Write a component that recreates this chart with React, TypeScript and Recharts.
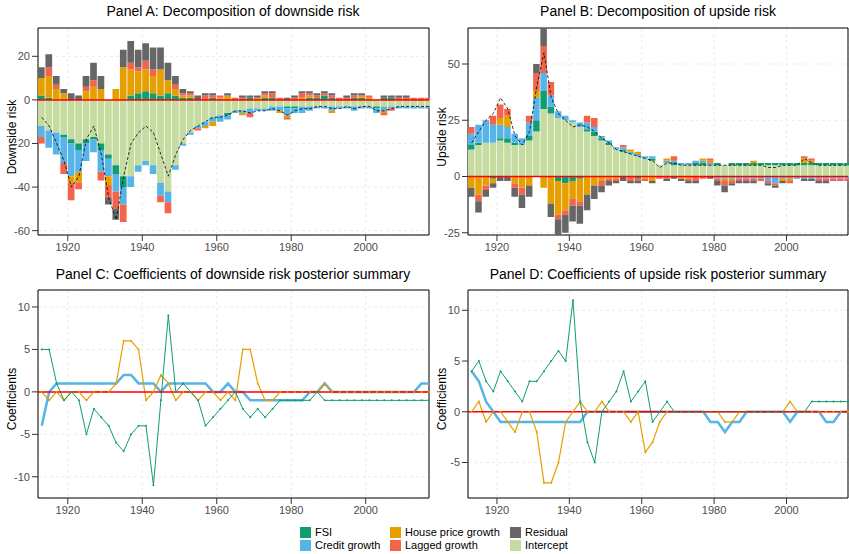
import { ComposedChart, Bar, Line, XAxis, YAxis, CartesianGrid, ReferenceLine, ReferenceArea } from "recharts";

const years = Array.from({ length: 53 }, (_, i) => 1913 + 2 * i);

// Panel A: downside risk decomposition
const aIntercept = [-12,-14,-15,-16,-18,-20,-18,-17,-20,-25, -30,-35,-35,-30,-28,-30,-38,-42,-30,-20, -15,-12,-10,-8,-7,-6,-5,-5,-4,-4, -4,-3,-3,-3,-3,-3,-3,-3,-3,-3, -3,-3,-3,-3,-3,-3,-3,-3,-3,-3, -3,-3,-3];
const aFsi = [2,1,0,-1,-2,-3,-2,-1,-3,-2, -4,-5,2,3,4,3,2,3,2,1, 1,0,0,1,0,-1,0,0,1,0, 1,1,0,-1,-1,0,1,1,2,1, 0,0,1,1,0,-1,1,1,0,0, 0,0,0];
const aCredit = [-5,-8,-10,-12,-15,-10,-8,-6,-10,-8, -8,-8,-5,-3,-2,-4,-6,-5,-2,-1, -1,-1,-2,-2,-3,-2,-1,-1,-2,-1, -1,-2,-2,-3,-2,-3,-2,-1,-1,-2, -1,-1,-2,-1,-1,-2,-2,-1,-1,-1, -1,-1,-1];
const aHouse = [8,10,5,3,-3,-5,4,6,5,-4, 5,15,12,10,10,8,12,6,3,1, 1,0,-1,-2,1,2,0,-1,0,1, 1,0,-1,-1,0,1,1,0,0,-1, 0,0,0,1,1,0,-1,0,0,0, 0,0,0];
const aLagged = [-3,4,2,-5,-8,-3,2,3,-4,-6, -8,-8,3,2,4,3,-3,-5,2,1, 1,-1,2,1,1,0,1,1,-2,0, 1,2,1,-1,1,2,1,1,1,1, 1,1,1,0,1,0,-1,-1,1,1, 1,1,1];
const aResidual = [5,6,4,2,3,2,5,8,6,-3, -5,8,10,8,8,10,10,8,4,2, 1,2,1,1,0,1,0,1,1,1, 1,1,0,1,1,1,1,1,1,1, 0,1,1,1,0,0,1,1,1,1, 0,0,0];
const aTotal = [-8,-12,-20,-28,-40,-35,-18,-12,-25,-45, -55,-35,-20,-15,-12,-15,-25,-35,-25,-18, -14,-12,-10,-8,-8,-7,-5,-5,-6,-5, -5,-4,-5,-7,-5,-4,-4,-3,-3,-4, -4,-3,-4,-3,-3,-5,-5,-4,-3,-3, -3,-3,-3];

// Panel B: upside risk decomposition
const bIntercept = [12,14,15,15,16,15,14,14,16,20, 30,28,26,25,24,22,20,18,16,14, 12,11,10,9,8,7,5,6,5,5, 5,5,5,5,5,5,5,5,5,5, 5,5,5,5,5,5,5,5,5,5, 5,5,5];
const bFsi = [2,1,0,-1,1,2,1,0,2,5, 8,3,-2,-3,-2,-1,1,2,1,1, 0,1,0,-1,0,1,0,0,1,0, 0,1,1,0,1,0,1,1,1,1, 1,1,1,1,1,1,1,1,1,1, 1,1,1];
const bCredit = [5,8,10,8,6,5,4,3,6,10, 8,5,3,2,1,2,3,2,1,1, 1,1,1,1,1,1,0,1,1,1, 1,1,1,1,-1,-1,-1,-1,-1,-1, -1,-2,-3,-1,-1,-1,-1,-1,-1,-1, -1,-1,-1];
const bHouse = [-5,-8,-4,-2,3,5,-3,-5,-4,3, -5,-12,-15,-12,-8,-10,-8,-4,-2,-1, -1,0,1,1,-1,-2,0,1,0,-1, -1,0,1,1,0,-1,-1,0,0,1, 0,0,0,-1,-1,0,2,1,0,0, 0,0,0];
const bLagged = [3,-3,-2,4,6,3,-2,-3,3,8, 12,6,-2,-2,-3,-2,3,4,-2,-1, -1,1,-2,-1,-1,0,-1,-1,2,0, -1,-2,-1,1,-1,-2,-1,-1,-1,-1, -1,-1,-1,0,-1,0,1,1,-1,-1, -1,-1,-1];
const bResidual = [-4,-5,-3,-2,-2,-2,-4,-6,-5,4, 8,-6,-8,-8,-7,-8,-7,-6,-3,-2, -1,-2,-1,-1,0,-1,0,-1,-1,-1, -1,-1,0,-1,-2,-3,-1,-1,-1,-1, 0,-1,-1,-1,0,0,-1,-1,-1,-1, 0,0,0];
const bTotal = [15,20,25,28,35,30,18,14,20,40, 55,35,28,25,22,23,22,20,17,15, 12,11,10,9,8,7,4,6,6,5, 5,5,5,5,5,5,5,5,5,5, 5,4,4,5,5,5,8,6,5,5, 5,5,5];

// Panel C: downside coefficients
const cFsi = [5,5,1,-1,0,-1,-5,-2,-3,-4, -6,-7,-5,-4,-4,-11,-1,9,0,1, 0,-1,-4,-3,-2,-1,0,-2,-3,-2, -3,-2,-1,-1,-1,-1,-1,0,-1,-1, -1,-1,-1,-1,-1,-1,-1,-1,-1,-1, -1,-1,-1];
const cCredit = [-4,0,1,1,1,1,1,1,1,1, 1,2,2,1,1,1,0,1,1,1, 1,1,1,0,0,1,0,0,-1,-1, -1,-1,-1,-1,-1,-1,0,0,1,0, 0,0,0,0,0,0,0,0,0,0, 0,1,1];
const cHouse = [0,-1,0,-1,0,0,-1,0,0,0, 1,6,6,5,-1,0,2,1,-1,0, 0,-1,0,0,-1,0,-1,5,5,1, -1,-1,0,0,0,0,0,0,1,0, 0,0,0,0,0,0,0,0,0,0, 0,0,0];

// Panel D: upside coefficients
const dFsi = [4,5,3,2,4,3,2,1,3,3, 4,5,6,5,11,1,-3,-5,0,1, 2,4,1,2,3,-1,0,1,0,0, 0,0,0,0,0,0,0,0,0,0, 0,0,0,0,0,0,0,1,1,1, 1,1,1];
const dCredit = [4,3,1,0,-1,-1,-1,-1,-1,-1, -1,-1,-1,-1,-1,-1,0,0,0,0, 0,0,0,0,0,0,0,0,0,0, 0,0,0,-1,-1,-2,-1,-1,0,0, 0,0,0,0,-1,0,0,0,0,-1, -1,0,0];
const dHouse = [0,1,-1,0,0,-1,-2,0,0,-2, -7,-7,-5,-1,0,1,0,0,1,0, 0,0,-1,0,-4,-3,-1,0,0,0, 0,0,0,0,0,-1,-1,0,0,0, 0,0,0,0,1,0,0,0,0,0, 0,0,0];

const xTicks = [1920, 1940, 1960, 1980, 2000];

const C = {
  fsi: "#0f9d72",
  credit: "#56b4e9",
  house: "#e69f00",
  lagged: "#f2644b",
  residual: "#666666",
  intercept: "#c5dba0",
};

const tick = { fontSize: 11, fill: "#4d4d4d" };

const decomp = (fsi, credit, house, lagged, residual, intercept, total) =>
  years.map((year, i) => ({
    year,
    intercept: intercept[i],
    fsi: fsi[i],
    credit: credit[i],
    house: house[i],
    lagged: lagged[i],
    residual: residual[i],
    total: total[i],
  }));

const coefs = (fsi, credit, house) =>
  years.map((year, i) => ({ year, fsi: fsi[i], credit: credit[i], house: house[i] }));

const Title = ({ text, left, top, width }) => (
  <div style={{ position: "absolute", left, top, width, textAlign: "center", fontSize: 14, color: "#000" }}>{text}</div>
);

const YLabel = ({ text, left, centerY }) => (
  <div style={{ position: "absolute", left, top: centerY, width: 0, height: 0 }}>
    <div style={{ position: "absolute", transform: "translate(-50%, -50%) rotate(-90deg)", whiteSpace: "nowrap", fontSize: 12, color: "#000" }}>{text}</div>
  </div>
);

const Frame = ({ y }) => (
  <ReferenceArea x1={1912} x2={2017} y1={y[0]} y2={y[1]} fill="none" stroke="#000" strokeWidth={1} />
);

const DecompChart = ({ data, yDomain, yTicks, width }) => (
  <ComposedChart width={width} height={265} data={data} stackOffset="sign" margin={{ top: 28, right: 1, bottom: 0, left: 0 }}>
    <CartesianGrid stroke="#ebebeb" strokeDasharray="3 3" />
    <XAxis dataKey="year" type="number" domain={[1912, 2017]} ticks={xTicks} tick={tick} tickLine={{ stroke: "#333" }} axisLine={false} />
    <YAxis type="number" domain={yDomain} ticks={yTicks} tick={tick} width={38} tickLine={{ stroke: "#333" }} axisLine={false} allowDataOverflow />
    <Bar dataKey="intercept" stackId="s" fill={C.intercept} barSize={8} isAnimationActive={false} />
    <Bar dataKey="fsi" stackId="s" fill={C.fsi} barSize={8} isAnimationActive={false} />
    <Bar dataKey="credit" stackId="s" fill={C.credit} barSize={8} isAnimationActive={false} />
    <Bar dataKey="house" stackId="s" fill={C.house} barSize={8} isAnimationActive={false} />
    <Bar dataKey="lagged" stackId="s" fill={C.lagged} barSize={8} isAnimationActive={false} />
    <Bar dataKey="residual" stackId="s" fill={C.residual} barSize={8} isAnimationActive={false} />
    <Line dataKey="total" stroke="#000" strokeDasharray="3 2" strokeWidth={0.8} dot={false} isAnimationActive={false} />
    <ReferenceLine y={0} stroke="#ff0000" strokeWidth={1.5} />
    <Frame y={yDomain} />
  </ComposedChart>
);

const CoefChart = ({ data, yDomain, yTicks, width }) => (
  <ComposedChart width={width} height={266} data={data} margin={{ top: 28, right: 1, bottom: 0, left: 0 }}>
    <CartesianGrid stroke="#ebebeb" strokeDasharray="3 3" />
    <XAxis dataKey="year" type="number" domain={[1912, 2017]} ticks={xTicks} tick={tick} tickLine={{ stroke: "#333" }} axisLine={false} />
    <YAxis type="number" domain={yDomain} ticks={yTicks} tick={tick} width={38} tickLine={{ stroke: "#333" }} axisLine={false} />
    <Line dataKey="credit" stroke={C.credit} strokeWidth={2.5} dot={false} isAnimationActive={false} />
    <Line dataKey="house" stroke={C.house} strokeWidth={1.2} dot={{ r: 1, fill: C.house, stroke: "none" }} isAnimationActive={false} />
    <Line dataKey="fsi" stroke={C.fsi} strokeWidth={1} dot={{ r: 1, fill: C.fsi, stroke: "none" }} isAnimationActive={false} />
    <ReferenceLine y={0} stroke="#ff0000" strokeWidth={1.5} />
    <Frame y={yDomain} />
  </ComposedChart>
);

const legendItems = [
  ["FSI", C.fsi],
  ["House price growth", C.house],
  ["Residual", C.residual],
  ["Credit growth", C.credit],
  ["Lagged growth", C.lagged],
  ["Intercept", C.intercept],
];

export default function App() {
  return (
    <div style={{ position: "fixed", left: 0, top: 0, width: 849, height: 554, background: "#fff", fontFamily: "'Liberation Sans', Arial, sans-serif" }}>
      <Title text="Panel A: Decomposition of downside risk" left={38} top={3} width={390} />
      <Title text="Panel B: Decomposition of upside risk" left={468} top={3} width={380} />
      <Title text="Panel C: Coefficients of downside risk posterior summary" left={38} top={266} width={390} />
      <Title text="Panel D: Coefficients of upside risk posterior summary" left={468} top={266} width={380} />
      <YLabel text="Downside risk" left={12} centerY={137} />
      <YLabel text="Upside risk" left={442} centerY={137} />
      <YLabel text="Coefficients" left={12} centerY={399} />
      <YLabel text="Coefficients" left={442} centerY={399} />
      <div style={{ position: "absolute", left: 0, top: 0 }}>
        <DecompChart data={decomp(aFsi, aCredit, aHouse, aLagged, aResidual, aIntercept, aTotal)} yDomain={[-62, 33]} yTicks={[20, 0, -20, -40, -60]} width={430} />
      </div>
      <div style={{ position: "absolute", left: 430, top: 0 }}>
        <DecompChart data={decomp(bFsi, bCredit, bHouse, bLagged, bResidual, bIntercept, bTotal)} yDomain={[-26, 66]} yTicks={[50, 25, 0, -25]} width={419} />
      </div>
      <div style={{ position: "absolute", left: 0, top: 262 }}>
        <CoefChart data={coefs(cFsi, cCredit, cHouse)} yDomain={[-12.5, 12]} yTicks={[10, 5, 0, -5, -10]} width={430} />
      </div>
      <div style={{ position: "absolute", left: 430, top: 262 }}>
        <CoefChart data={coefs(dFsi, dCredit, dHouse)} yDomain={[-8.5, 12]} yTicks={[10, 5, 0, -5]} width={419} />
      </div>
      <div style={{ position: "absolute", left: 300, top: 526, display: "grid", gridTemplateColumns: "90px 120px 80px", rowGap: 1, fontSize: 11 }}>
        {legendItems.map(([name, color]) => (
          <div key={name} style={{ display: "flex", alignItems: "center", gap: 4 }}>
            <span style={{ width: 11, height: 11, background: color, display: "inline-block" }} />
            {name}
          </div>
        ))}
      </div>
    </div>
  );
}
